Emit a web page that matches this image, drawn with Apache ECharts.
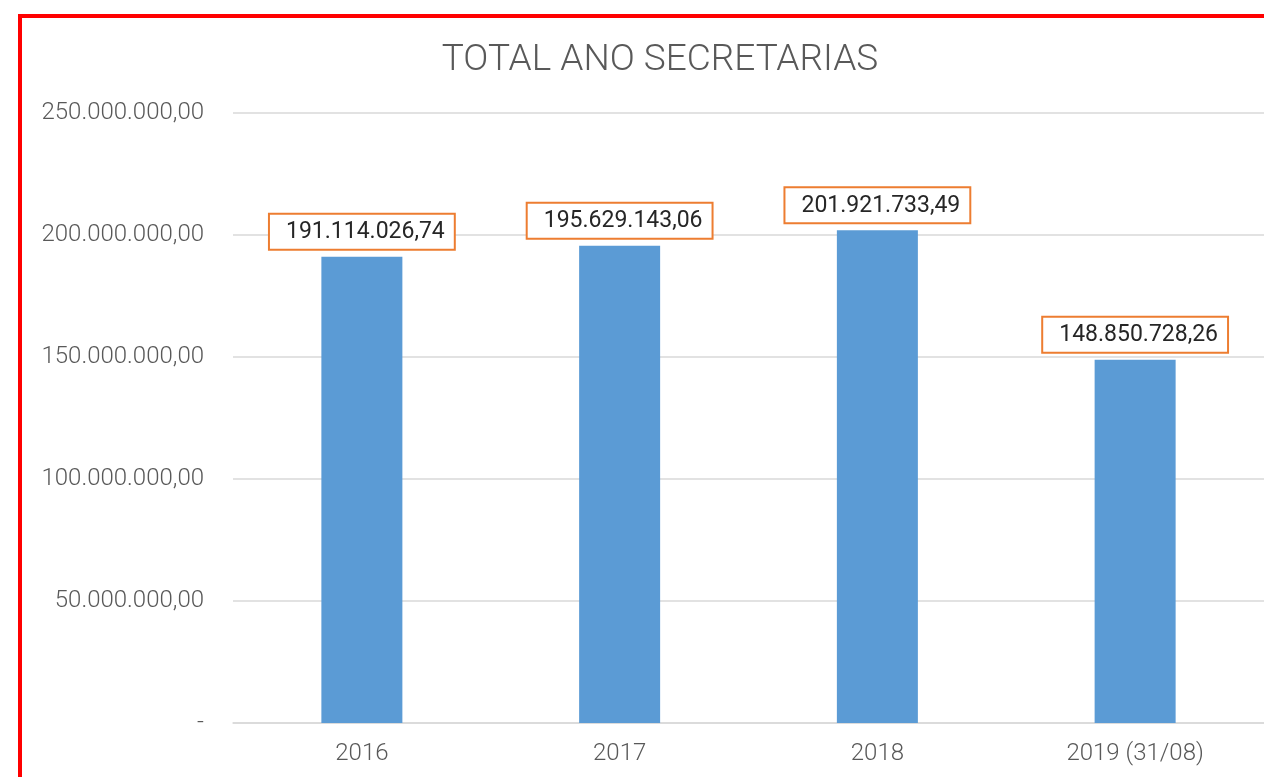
<!DOCTYPE html>
<html>
<head>
<meta charset="utf-8">
<script src="https://cdn.jsdelivr.net/npm/echarts@6/dist/echarts.min.js"></script>
<style>
  html, body { margin: 0; padding: 0; overflow: hidden; background: #fff; }
  #frame { position: absolute; left: 18px; top: 14px; width: 1400px; height: 900px; border: 4px solid #ff0000; }
  #chart { position: absolute; left: 0; top: 0; width: 1264px; height: 777px; }
</style>
</head>
<body>
<div id="frame"></div>
<div id="chart"></div>
<script>
// chart data
const categories = ['2016', '2017', '2018', '2019 (31/08)'];
const totals = [191114026.74, 195629143.06, 201921733.49, 148850728.26];

// 1234567.8 -> "1.234.567,80"
function fmtBR(v) {
  const parts = v.toFixed(2).split('.');
  const intPart = parts[0].replace(/\B(?=(\d{3})+(?!\d))/g, '.');
  return intPart + ',' + parts[1];
}

const chart = echarts.init(document.getElementById('chart'));

const option = {
  backgroundColor: 'transparent',
  animation: false,
  title: {
    text: 'TOTAL ANO SECRETARIAS',
    left: 655,
    top: 37,
    textAlign: 'center',
    textStyle: {
      fontFamily: 'Roboto',
      fontWeight: 300,
      fontSize: 37,
      color: '#595959'
    }
  },
  grid: {
    left: 233,
    right: 0,
    top: 113,
    bottom: 54
  },
  xAxis: {
    type: 'category',
    data: categories,
    axisTick: { show: false },
    axisLine: { lineStyle: { color: '#D9D9D9', width: 1.5 } },
    axisLabel: {
      margin: 19,
      fontFamily: 'Roboto',
      fontWeight: 300,
      fontSize: 24,
      color: '#595959'
    }
  },
  yAxis: {
    type: 'value',
    min: 0,
    max: 250000000,
    interval: 50000000,
    axisLine: { show: false },
    axisTick: { show: false },
    splitLine: { lineStyle: { color: '#D9D9D9', width: 1.5 } },
    axisLabel: {
      margin: 29,
      fontFamily: 'Roboto',
      fontWeight: 300,
      fontSize: 24,
      color: '#595959',
      formatter: function (v) { return v === 0 ? '-' : fmtBR(v); }
    }
  },
  series: [{
    type: 'bar',
    data: totals,
    barWidth: 81,
    itemStyle: { color: '#5B9BD5' },
    label: {
      show: true,
      position: 'top',
      distance: 8,
      fontFamily: 'Roboto',
      fontSize: 23,
      color: '#262626',
      backgroundColor: '#fff',
      borderColor: '#ED7D31',
      borderWidth: 2,
      padding: [6, 9, 5, 16],
      formatter: function (p) { return fmtBR(p.value); }
    }
  }]
};

chart.setOption(option);
</script>
</body>
</html>
